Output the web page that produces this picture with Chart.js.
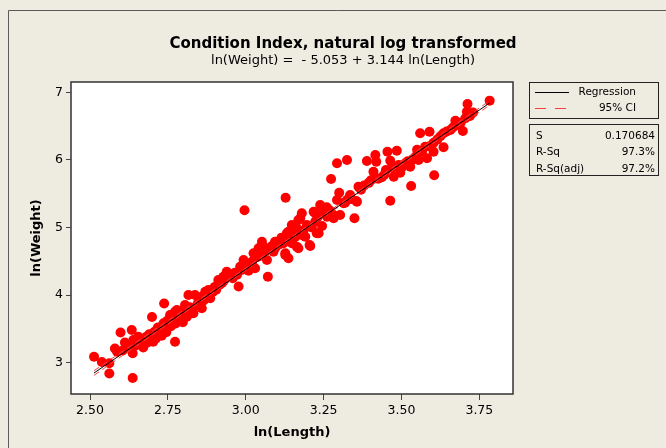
<!DOCTYPE html>
<html>
<head>
<meta charset="utf-8">
<title>Condition Index, natural log transformed</title>
<script src="https://cdn.jsdelivr.net/npm/chart.js@4.4.1/dist/chart.umd.min.js"></script>
<style>
  html, body { margin: 0; padding: 0; background: #EEEBE1; }
  canvas { display: block; }
</style>
</head>
<body>
<canvas id="plot" width="666" height="448"></canvas>
<script>
// data (natural log of length / weight)
const lnLength = [
  2.513, 2.538, 2.562, 2.562, 2.637, 2.587, 2.598, 2.618, 2.634, 2.637,
  2.639, 2.671, 2.655, 2.699, 2.703, 2.714, 2.738, 2.736, 2.757, 2.773,
  2.773, 2.789, 2.805, 2.811, 2.816, 2.832, 2.837, 2.859, 2.853, 2.870,
  2.880, 2.886, 2.912, 2.923, 2.939, 2.934, 2.944, 2.977, 2.987, 2.993,
  3.004, 3.020, 3.025, 3.030, 3.041, 3.052, 3.068, 3.071, 3.089, 3.100,
  3.121, 3.127, 3.132, 3.143, 3.153, 3.164, 2.996, 3.128,
  2.580, 2.605, 2.612, 2.625, 2.645, 2.660, 2.668, 2.680, 2.685, 2.690,
  2.695, 2.705, 2.708, 2.712, 2.718, 2.722, 2.727, 2.730, 2.733, 2.740,
  2.745, 2.748, 2.752, 2.760, 2.765, 2.768, 2.775, 2.780, 2.785, 2.795,
  2.798, 2.800, 2.808, 2.820, 2.825, 2.843, 2.848, 2.865, 2.875, 2.895,
  2.900, 2.905, 2.915, 2.928, 2.950, 2.958, 2.965, 2.972, 2.982, 3.010,
  3.035, 3.045, 3.058, 3.062, 3.078, 3.085, 3.095, 3.108, 3.115, 3.138,
  3.009, 2.928, 2.859, 2.827, 2.779,
  3.300, 3.335, 3.357, 3.319, 3.239, 3.180, 3.218, 3.282, 3.349, 3.250,
  3.261, 3.169, 3.223, 3.196, 3.148, 3.137, 3.164, 3.234, 3.180, 3.153,
  3.094, 3.207, 3.169, 3.089, 3.127, 3.137,
  3.783, 3.712, 3.710, 3.705, 3.673, 3.678, 3.697, 3.657, 3.635, 3.590,
  3.560, 3.603, 3.576, 3.566, 3.603, 3.635, 3.582, 3.555, 3.605, 3.533,
  3.528, 3.512, 3.491, 3.485, 3.455, 3.464, 3.496, 3.475, 3.531, 3.464,
  3.437, 3.416, 3.419, 3.389, 3.410, 3.416, 3.325, 3.293, 3.274, 3.362,
  3.335, 3.355, 3.293, 3.314, 3.325, 3.303, 3.282, 3.250, 3.223, 3.175,
  3.245, 3.196, 3.164, 3.228, 3.191, 3.159, 3.205, 3.148,
  3.370, 3.380, 3.395, 3.402, 3.425, 3.445, 3.450, 3.470, 3.500, 3.520,
  3.545, 3.550, 3.590, 3.615, 3.625, 3.645, 3.665, 3.690, 3.720, 3.730,
  3.260, 3.270, 3.230, 3.212, 3.185, 3.340
];
const lnWeight = [
  3.089, 3.010, 2.991, 2.840, 2.774, 3.163, 3.447, 3.262, 3.484, 3.139,
  3.336, 3.225, 3.385, 3.676, 3.311, 3.484, 3.876, 3.583, 3.706, 3.311,
  3.754, 3.632, 3.854, 3.680, 4.001, 3.731, 4.001, 3.805, 3.928, 4.050,
  4.075, 3.953, 4.223, 4.175, 4.346, 4.249, 4.297, 4.127, 4.371, 4.519,
  4.396, 4.494, 4.618, 4.396, 4.692, 4.790, 4.519, 4.272, 4.642, 4.790,
  4.766, 4.593, 4.914, 4.815, 5.012, 4.716, 5.254, 5.441,
  3.210, 3.180, 3.300, 3.230, 3.250, 3.300, 3.350, 3.380, 3.300, 3.420,
  3.370, 3.450, 3.400, 3.360, 3.520, 3.430, 3.470, 3.400, 3.540, 3.500,
  3.450, 3.620, 3.560, 3.540, 3.650, 3.600, 3.580, 3.680, 3.720, 3.700,
  3.600, 3.780, 3.760, 3.820, 3.780, 3.850, 3.900, 3.920, 3.990, 4.050,
  4.120, 4.080, 4.150, 4.200, 4.280, 4.250, 4.330, 4.300, 4.420, 4.460,
  4.560, 4.580, 4.650, 4.700, 4.680, 4.730, 4.700, 4.750, 4.850, 4.870,
  4.361, 4.272, 3.976, 3.731, 3.780,
  5.515, 5.481, 5.382, 5.367, 5.333, 5.210, 5.234, 5.185, 5.136, 5.258,
  5.160, 5.111, 5.086, 5.037, 5.037, 4.938, 4.963, 4.914, 4.889, 4.840,
  4.790, 4.726, 4.692, 4.667, 4.618, 4.544,
  6.876, 6.827, 6.713, 6.615, 6.580, 6.516, 6.428, 6.442, 6.393, 6.417,
  6.393, 6.254, 6.195, 6.121, 6.121, 6.186, 6.024, 5.999, 5.772, 5.999,
  5.900, 5.950, 5.925, 6.136, 6.121, 5.988, 5.811, 5.751, 5.614, 5.396,
  5.743, 6.073, 5.973, 5.984, 5.825, 5.728, 5.999, 5.950, 5.717, 5.604,
  5.456, 5.392, 5.407, 5.358, 5.407, 5.185, 5.136, 5.234, 5.210, 5.136,
  5.022, 5.012, 4.988, 4.914, 4.864, 4.864, 4.741, 4.766,
  5.560, 5.620, 5.660, 5.700, 5.720, 5.780, 5.850, 5.880, 5.880, 5.980,
  6.050, 6.150, 6.200, 6.300, 6.350, 6.420, 6.480, 6.550, 6.650, 6.700,
  5.300, 5.250, 5.150, 5.000, 4.950, 5.420
];

// fitted line and 95% CI band, as drawn on the plot
const fitX = [2.513, 3.783];
const fitY = [2.848, 6.841];
const ciX = [2.513, 3.150, 3.783];
const ciUpper = [2.882, 4.868, 6.874];
const ciLower = [2.814, 4.846, 6.808];

// axis ticks
const xTicks = [2.50, 2.75, 3.00, 3.25, 3.50, 3.75];
const yTicks = [3, 4, 5, 6, 7];

// stats box
const statLabels = ['S', 'R-Sq', 'R-Sq(adj)'];
const statValues = ['0.170684', '97.3%', '97.2%'];

const BG = '#EEEBE1';
const FONT = 'DejaVu Sans';
const RED = '#FF0000';
const CI_RED = '#FF3C3C';

function toPoints(xs, ys) {
    return xs.map((x, i) => ({ x: x, y: ys[i] }));
}

// background, plot frame and the two legend boxes on the right
const framePlugin = {
    id: 'frame',
    beforeDraw(chart) {
        const { ctx, chartArea: a } = chart;
        ctx.save();
        ctx.fillStyle = BG;
        ctx.fillRect(0, 0, chart.width, chart.height);
        ctx.strokeStyle = '#5a5a5a';
        ctx.lineWidth = 1;
        ctx.beginPath();
        ctx.moveTo(8.5, chart.height);
        ctx.lineTo(8.5, 10.5);
        ctx.lineTo(chart.width, 10.5);
        ctx.stroke();
        ctx.fillStyle = '#FFFFFF';
        ctx.fillRect(a.left, a.top, a.right - a.left, a.bottom - a.top);
        ctx.restore();
    },
    afterDraw(chart) {
        const { ctx, chartArea: a } = chart;
        ctx.save();
        ctx.strokeStyle = '#333333';
        ctx.lineWidth = 1.5;
        ctx.strokeRect(a.left, a.top, a.right - a.left, a.bottom - a.top);

        // legend box
        ctx.lineWidth = 1;
        ctx.strokeStyle = '#222222';
        ctx.strokeRect(529.5, 82.5, 129, 36);
        ctx.strokeRect(529.5, 124.5, 129, 51);

        ctx.beginPath();
        ctx.strokeStyle = '#000000';
        ctx.moveTo(535, 92.5);
        ctx.lineTo(569, 92.5);
        ctx.stroke();
        ctx.beginPath();
        ctx.strokeStyle = CI_RED;
        ctx.setLineDash([11, 9]);
        ctx.moveTo(535, 108.5);
        ctx.lineTo(566, 108.5);
        ctx.stroke();
        ctx.setLineDash([]);

        ctx.fillStyle = '#000000';
        ctx.font = '10.5px "' + FONT + '"';
        ctx.textBaseline = 'middle';
        ctx.textAlign = 'right';
        ctx.fillText('Regression', 636, 92);
        ctx.fillText('95% CI', 636, 108);

        // stats
        const rows = [136, 152.5, 169];
        statLabels.forEach((lab, i) => {
            ctx.textAlign = 'left';
            ctx.fillText(lab, 536, rows[i]);
            ctx.textAlign = 'right';
            ctx.fillText(statValues[i], 655, rows[i]);
        });
        ctx.restore();
    }
};

const tickFont = { family: FONT, size: 12.5 };
const labelFont = { family: FONT, size: 13, weight: 'bold' };

new Chart(document.getElementById('plot').getContext('2d'), {
    type: 'scatter',
    data: {
        datasets: [
            {
                label: 'Regression',
                data: toPoints(fitX, fitY),
                showLine: true,
                borderColor: '#000000',
                borderWidth: 1,
                pointRadius: 0,
                order: 0
            },
            {
                label: '95% CI upper',
                data: toPoints(ciX, ciUpper),
                showLine: true,
                borderColor: CI_RED,
                borderWidth: 1,
                borderDash: [6, 4],
                pointRadius: 0,
                order: 0
            },
            {
                label: '95% CI lower',
                data: toPoints(ciX, ciLower),
                showLine: true,
                borderColor: CI_RED,
                borderWidth: 1,
                borderDash: [6, 4],
                pointRadius: 0,
                order: 0
            },
            {
                label: 'ln(Weight)',
                data: toPoints(lnLength, lnWeight),
                backgroundColor: RED,
                borderColor: RED,
                borderWidth: 0,
                pointRadius: 5,
                order: 1
            }
        ]
    },
    options: {
        responsive: false,
        animation: false,
        layout: { padding: { left: 20, right: 0, top: 0, bottom: 0 } },
        plugins: {
            legend: { display: false },
            tooltip: { enabled: false },
            title: {
                display: true,
                text: 'Condition Index, natural log transformed',
                color: '#000000',
                font: { family: FONT, size: 15, weight: 'bold' },
                padding: { top: 35, bottom: 0 }
            },
            subtitle: {
                display: true,
                text: 'ln(Weight) =  - 5.053 + 3.144 ln(Length)',
                color: '#000000',
                font: { family: FONT, size: 13 },
                padding: { top: 0, bottom: 13.4 }
            }
        },
        scales: {
            x: {
                type: 'linear',
                min: 2.439,
                max: 3.858,
                afterFit: s => { s.height = 54; },
                afterBuildTicks: s => { s.ticks = xTicks.map(v => ({ value: v })); },
                ticks: {
                    callback: v => v.toFixed(2),
                    color: '#000000',
                    font: tickFont,
                    padding: 3,
                    autoSkip: false,
                    maxRotation: 0
                },
                grid: { drawOnChartArea: false, tickLength: 6, color: '#444444' },
                border: { display: false },
                title: {
                    display: true,
                    text: 'ln(Length)',
                    color: '#000000',
                    font: labelFont,
                    padding: { top: 0, bottom: 8 }
                }
            },
            y: {
                type: 'linear',
                min: 2.537,
                max: 7.152,
                afterFit: s => { s.width = 51; },
                afterBuildTicks: s => { s.ticks = yTicks.map(v => ({ value: v })); },
                ticks: {
                    color: '#000000',
                    font: tickFont,
                    padding: 3,
                    autoSkip: false
                },
                grid: { drawOnChartArea: false, tickLength: 5, color: '#444444' },
                border: { display: false },
                title: {
                    display: true,
                    text: 'ln(Weight)',
                    color: '#000000',
                    font: labelFont,
                    padding: { top: 9, bottom: 0 }
                }
            },
            // empty right-hand axis just reserves room for the legend boxes
            y2: {
                position: 'right',
                afterFit: s => { s.width = 153; },
                ticks: { display: false },
                grid: { display: false },
                border: { display: false }
            }
        }
    },
    plugins: [framePlugin]
});
</script>
</body>
</html>
